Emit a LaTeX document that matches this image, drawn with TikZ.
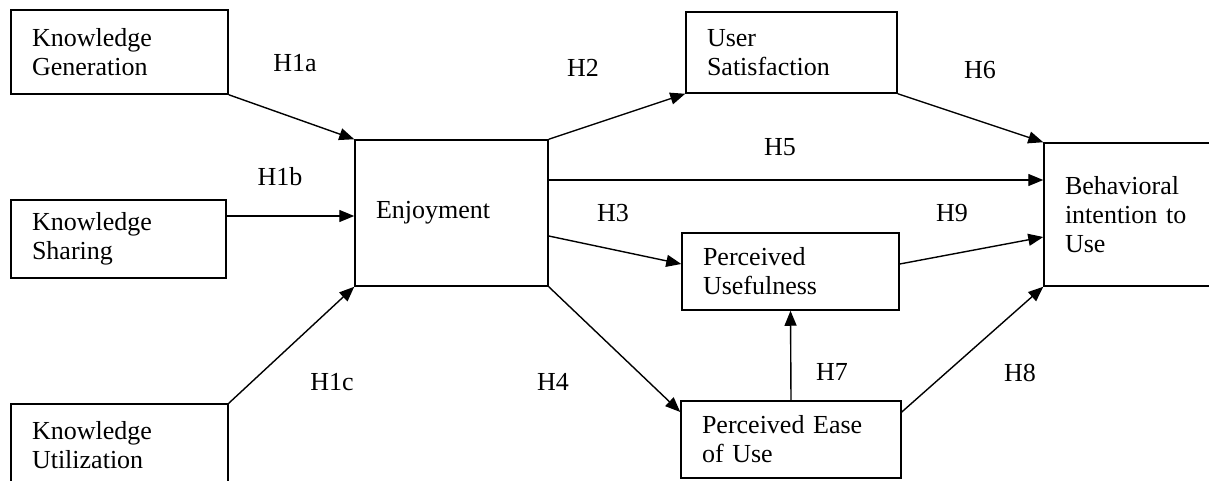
\documentclass[tikz,border=0pt]{standalone}
\usepackage{fontspec}
\setmainfont{Liberation Serif}
\usetikzlibrary{arrows.meta,calc}
\begin{document}
\begin{tikzpicture}[x=1pt,y=-1pt,
  every node/.style={font=\fontsize{26}{29}\selectfont},
  box/.style={draw=black, line width=1.5pt, rectangle, inner xsep=21pt, inner ysep=0pt, align=left},
  hlab/.style={inner sep=0pt},
  link/.style={draw=black, line width=1.4pt, -{Triangle[length=15pt,width=12pt]}},
  plain/.style={draw=black, line width=1.4pt}]
\useasboundingbox[fill=white] (0,0) rectangle (1209,481);
\begin{scope}
\clip (0,0) rectangle (1209,481);
\node[box, minimum width=217pt, minimum height=84pt, text width=175pt] (kg) at (119.5,52) {Knowledge\\Generation};
\node[box, minimum width=215pt, minimum height=78pt, text width=173pt] (ks) at (118.5,239) {Knowledge\\Sharing};
\node[box, minimum width=217pt, minimum height=82pt, text width=175pt] (ku) at (119.5,445) {Knowledge\\Utilization};
\node[box, minimum width=193pt, minimum height=146pt, text width=151pt] (enj) at (451.5,213) {Enjoyment};
\node[box, minimum width=211pt, minimum height=81pt, text width=169pt] (us) at (791.5,52.5) {User\\Satisfaction};
\node[box, minimum width=217pt, minimum height=77pt, text width=175pt] (pu) at (790.5,271.5) {Perceived\\Usefulness};
\node[box, minimum width=220pt, minimum height=77pt, text width=178pt] (peou) at (791,439.5) {Perceived Ease\\of Use};
\node[box, minimum width=180pt, minimum height=143pt, text width=138pt] (bi) at (1134,214.5) {Behavioral\\intention to\\Use};

\draw[link] (kg.south east) -- (enj.north west);
\draw[link] ([yshift=23pt]ks.east) -- ([yshift=23pt]ks.east -| enj.west);
\draw[link] (ku.north east) -- (enj.south west);
\draw[link] (enj.north east) -- (us.south west);
\draw[link] ([yshift=33pt]enj.east) -- ([yshift=33pt]enj.east -| bi.west);
\draw[link] ([yshift=-23pt]enj.east) -- ([yshift=7.5pt]pu.west);
\draw[link] (enj.south east) -- ([yshift=27.5pt]peou.west);
\draw[link] (us.south east) -- (bi.north west);
\draw[link] ([yshift=7.5pt]pu.east) -- ([yshift=-22.5pt]bi.west);
\draw[link] ([yshift=27.5pt]peou.east) -- (bi.south west);
\draw[link] (peou.north) -- (pu.south);

\node[hlab] (h1a) at (295,63) {H1a};
\node[hlab] (h1b) at (280,177) {H1b};
\node[hlab] (h1c) at (332,382) {H1c};
\node[hlab] (h2) at (583,68) {H2};
\node[hlab] (h6) at (980,70) {H6};
\node[hlab] (h5) at (780,147) {H5};
\node[hlab] (h3) at (613,213) {H3};
\node[hlab] (h9) at (952,213) {H9};
\node[hlab] (h4) at (553,382) {H4};
\node[hlab] (h7) at (832,372) {H7};
\node[hlab] (h8) at (1020,373) {H8};
\end{scope}
\end{tikzpicture}
\end{document}
